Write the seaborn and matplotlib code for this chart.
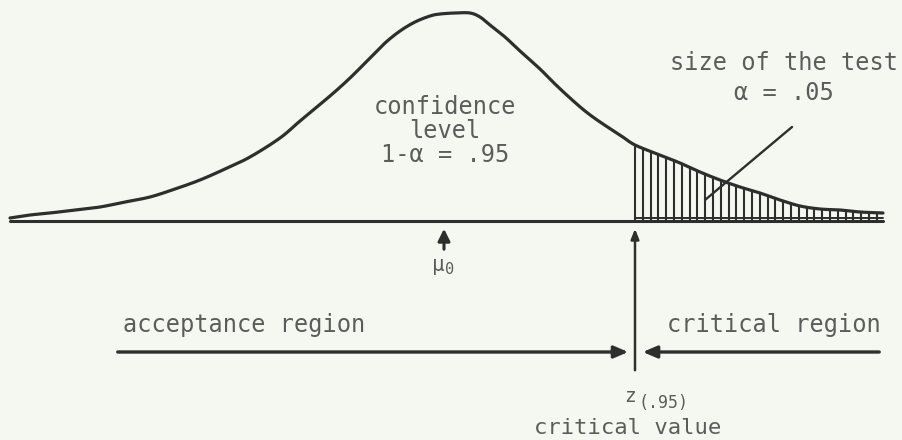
import numpy as np
import pandas as pd
import matplotlib
matplotlib.use("Agg")
import matplotlib.pyplot as plt
import seaborn as sns

# Curve (pixel-like units, y grows downward)
curve_x = [10, 30, 50, 75, 100, 125, 150, 175, 200, 225, 250, 280, 300, 330, 350,
           370, 385, 400, 415, 430, 440, 455, 470, 480, 490, 505, 520, 540, 555,
           570, 585, 600, 620, 635, 660, 680, 700, 720, 740, 760, 780, 800, 820,
           840, 860, 883]
curve_y = [218, 215, 213, 210, 207, 202, 197, 189, 180, 169, 157, 138, 121, 96, 78,
           58, 43, 31, 22, 16, 14, 13, 13, 17, 25, 37, 51, 69, 84,
           98, 111, 122, 135, 145, 155, 163, 172, 180, 187, 193, 200, 206, 209,
           210, 212, 213]
baseline_y = 221
critical_x = 635
mu0_x = 444
hatch_step = 7.8


def catmull_rom(xs, ys, n=12):
    p = np.column_stack([xs, ys]).astype(float)
    p = np.vstack([p[0], p, p[-1]])
    out = []
    t = np.linspace(0, 1, n, endpoint=False)
    for i in range(1, len(p) - 2):
        p0, p1, p2, p3 = p[i - 1], p[i], p[i + 1], p[i + 2]
        tt = t[:, None]
        pts = 0.5 * ((2 * p1) + (-p0 + p2) * tt + (2 * p0 - 5 * p1 + 4 * p2 - p3) * tt ** 2
                     + (-p0 + 3 * p1 - 3 * p2 + p3) * tt ** 3)
        out.append(pts)
    out.append(p[-2][None, :])
    a = np.vstack(out)
    return a[:, 0], a[:, 1]


sns.set_theme(style="white")
plt.rcParams['font.family'] = ['DejaVu Sans Mono', 'DejaVu Sans']

bg = "#f5f8f0"
ink = "#2e2e2e"
txt = "#5c5c5c"

fig = plt.figure(figsize=(9.02, 4.40), dpi=100, facecolor=bg)
ax = fig.add_axes([0, 0, 1, 1])
ax.set_facecolor(bg)
ax.set_xlim(0, 902)
ax.set_ylim(440, 0)
ax.axis("off")

sx, sy = catmull_rom(curve_x, curve_y)
df = pd.DataFrame({"x": sx, "y": sy})
sns.lineplot(data=df, x="x", y="y", ax=ax, color=ink, lw=2.3, sort=False, estimator=None)

# baseline
ax.plot([curve_x[0], curve_x[-1]], [baseline_y, baseline_y], color=ink, lw=2.2)
ax.plot([critical_x, curve_x[-1]], [baseline_y - 3, baseline_y - 3], color=ink, lw=1.4)

# hatching under tail
hx = np.arange(critical_x, curve_x[-1] - 2, hatch_step)
hy = np.interp(hx, sx, sy)
ax.vlines(hx, hy, baseline_y, color=ink, lw=1.5)

# leader line
ax.plot([792, 705], [127, 200], color=ink, lw=1.7)

# mu0 arrow
ax.annotate("", xy=(mu0_x, 226), xytext=(mu0_x, 252),
            arrowprops=dict(arrowstyle="-|>,head_length=0.6,head_width=0.3", color=ink, lw=2.2))
ax.text(mu0_x + 1, 265, "\u03bc", ha="right", va="center", fontsize=15, color=txt)
ax.text(mu0_x + 1, 269, "0", ha="left", va="center", fontsize=11, color=txt)

# critical value vertical arrow
ax.annotate("", xy=(critical_x, 226), xytext=(critical_x, 373),
            arrowprops=dict(arrowstyle="-|>,head_length=0.5,head_width=0.2", color=ink, lw=1.8))

# region arrows
ax.annotate("", xy=(631, 352), xytext=(115, 352),
            arrowprops=dict(arrowstyle="-|>,head_length=0.7,head_width=0.3", color=ink, lw=2.4))
ax.annotate("", xy=(640, 352), xytext=(882, 352),
            arrowprops=dict(arrowstyle="-|>,head_length=0.7,head_width=0.3", color=ink, lw=2.4))

fs = 17
ax.text(445, 107, "confidence", ha="center", va="center", fontsize=fs, color=txt)
ax.text(445, 131, "level", ha="center", va="center", fontsize=fs, color=txt)
ax.text(445, 155, "1-\u03b1 = .95", ha="center", va="center", fontsize=fs, color=txt)
ax.text(784, 63, "size of the test", ha="center", va="center", fontsize=fs, color=txt)
ax.text(784, 93, "\u03b1 = .05", ha="center", va="center", fontsize=fs, color=txt)
ax.text(123, 325, "acceptance region", ha="left", va="center", fontsize=fs, color=txt)
ax.text(881, 325, "critical region", ha="right", va="center", fontsize=fs, color=txt)
ax.text(636, 397, "z", ha="right", va="center", fontsize=14, color=txt)
ax.text(638, 403, "(.95)", ha="left", va="center", fontsize=12, color=txt)
ax.text(628, 428, "critical value", ha="center", va="center", fontsize=16, color=txt)

fig.savefig("out.png", dpi=100, facecolor=bg)
